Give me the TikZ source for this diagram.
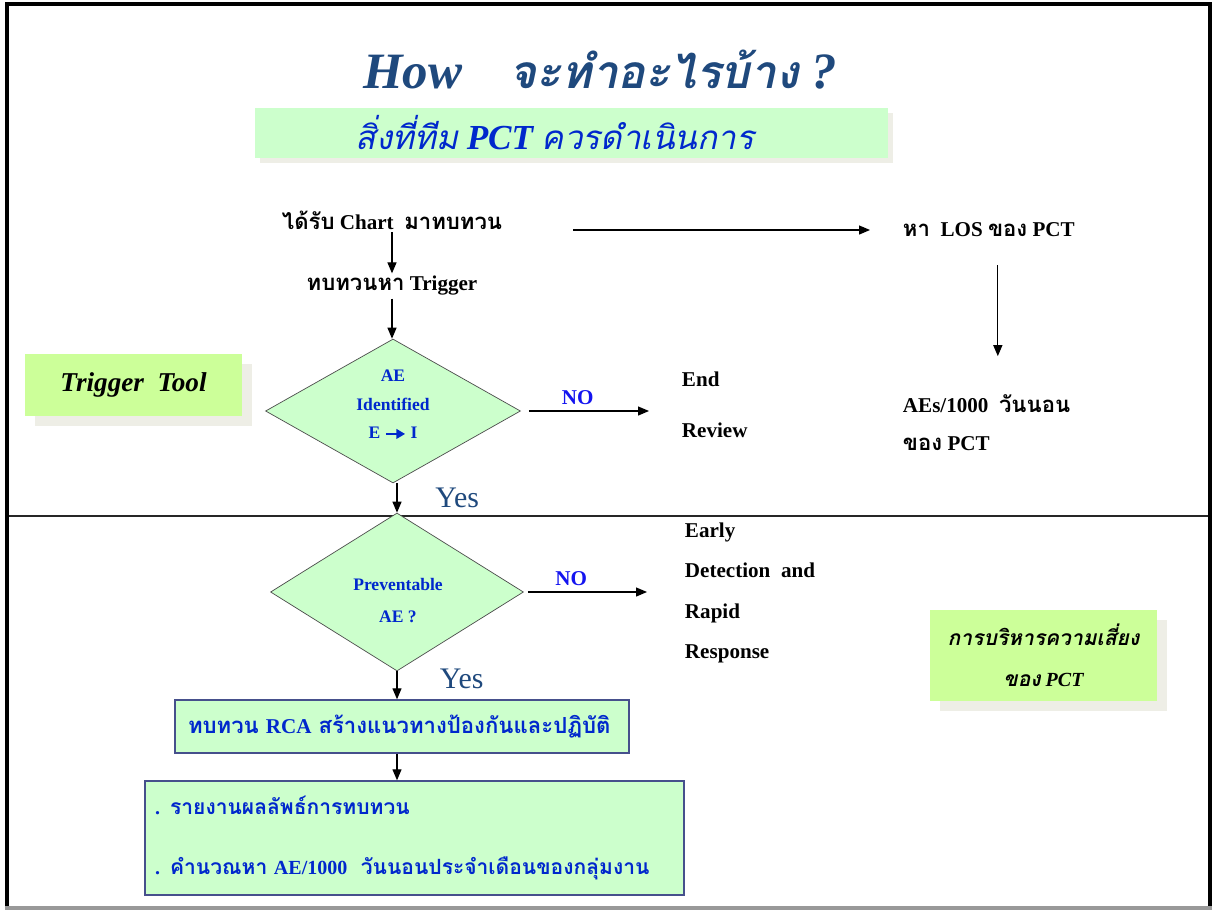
\documentclass[tikz,border=0pt]{standalone}
\usepackage{fontspec}
\setmainfont{Liberation Serif}
\newfontfamily\thaifont[Script=Thai,Scale=1.05]{Loma}
\newcommand{\tha}[1]{{\thaifont #1}}
\newcommand{\eiarrow}{\tikz[baseline=-0.6ex]\draw[-{Triangle[length=5pt,width=5.5pt]},line width=1.3pt] (0pt,0pt) -- (11pt,0pt);}
\usetikzlibrary{arrows.meta,positioning,shapes.geometric,shadows}
\definecolor{pctTitleBlue}{RGB}{31,73,125}
\definecolor{pctBlue}{RGB}{0,40,204}
\definecolor{pctNoBlue}{RGB}{20,20,240}
\definecolor{pctPaleGreen}{RGB}{204,255,204}
\definecolor{pctLime}{RGB}{204,255,153}
\definecolor{pctShadow}{RGB}{238,238,230}
\definecolor{pctSlate}{RGB}{70,80,140}

\begin{document}
\begin{tikzpicture}[
  x=0.02cm,y=-0.02cm,
  flowtext/.style={
    font=\bfseries\fontsize{12}{14}\selectfont,
    inner sep=1.5pt
  },
  decision/.style={
    diamond,
    draw=black!70,
    fill=pctPaleGreen,
    inner sep=0pt
  },
  decisiontext/.style={
    align=center,
    text=pctBlue,
    inner sep=0pt
  },
  stepbox/.style={
    draw=pctSlate,
    fill=pctPaleGreen,
    line width=0.8pt,
    align=left,
    text=pctBlue
  },
  notebox/.style={
    fill=pctLime,
    inner sep=0pt,
    align=center,
    drop shadow={shadow xshift=0.2cm,shadow yshift=-0.2cm,fill=pctShadow,opacity=1}
  },
  answer/.style={font=\fontsize{17}{19}\selectfont,text=pctTitleBlue},
  nolabel/.style={font=\bfseries\fontsize{12}{14}\selectfont,text=pctNoBlue},
  flowarrow/.style={-{Triangle[length=2.2mm,width=1.8mm]},line width=0.7pt}
]
  \fill[white] (0,0) rectangle (1214,913);
  \useasboundingbox (0,0) rectangle (1214,913);
  \draw[line width=2.3pt] (1212,4) -- (7,4) -- (7,909);
  \draw[line width=2.3pt] (1210,2) -- (1210,906);
  \draw[line width=2.3pt,black!40] (5,908) -- (1212,908);
  \draw[line width=0.9pt,black!85] (9,516) -- (1208,516);

  \node[font=\bfseries\itshape\fontsize{29}{32}\selectfont,text=pctTitleBlue] (title)
    at (600,70) {How\hspace{0.95cm}{\thaifont\fontsize{25}{30}\selectfont จะทำอะไรบ้าง} ?};
  \node[fill=pctPaleGreen,minimum width=12.66cm,minimum height=1cm,
    drop shadow={shadow xshift=0.1cm,shadow yshift=-0.1cm,fill=pctShadow,opacity=1}] (banner)
    at (571.5,133) {};
  \node[font=\itshape\fontsize{20}{22}\selectfont,text=pctBlue] (bannertext)
    at (555,133) {{\thaifont\fontsize{18}{22}\selectfont สิ่งที่ทีม} \textbf{PCT}
    {\thaifont\fontsize{18}{22}\selectfont ควรดำเนินการ}};

  \node[notebox,minimum width=4.34cm,minimum height=1.24cm,
    font=\bfseries\itshape\fontsize{15.5}{18}\selectfont] (tool)
    at (133.5,385) {Trigger~ Tool};
  \node[notebox,minimum width=4.54cm,minimum height=1.82cm,
    font=\bfseries\itshape\fontsize{11.4}{23.3}\selectfont] (risk)
    at (1043.5,655.5) {\tha{การบริหารความเสี่ยง}\\\tha{ของ} \textit{PCT}};

  \node[flowtext] (chart) at (392,220) {\tha{ได้รับ} Chart~ \tha{มาทบทวน}};
  \node[flowtext] (trigger) at (392,286) {\tha{ทบทวนหา} Trigger};
  \node[flowtext,anchor=west] (los) at (900,230) {\tha{หา}~ LOS \tha{ของ} PCT};
  \node[flowtext,anchor=west,align=left,font=\bfseries\fontsize{12}{22}\selectfont] (aes)
    at (900,422.5) {AEs/1000~ \tha{วันนอน}\\\tha{ของ} PCT};

  \node[decision,minimum width=5.1cm,minimum height=2.88cm] (identified) at (393,411) {};
  \node[decisiontext,font=\bfseries\fontsize{10}{16.2}\selectfont] (identifiedtext)
    at (393,404.5) {AE\\Identified\\E \eiarrow\ I};
  \node[flowtext,anchor=west,align=left,font=\bfseries\fontsize{12}{29}\selectfont] (endreview)
    at (679,405) {End\\Review};

  \node[decision,minimum width=5.06cm,minimum height=3.16cm] (preventable) at (397,592) {};
  \node[decisiontext,font=\bfseries\fontsize{10}{18.2}\selectfont] (preventabletext)
    at (398,601) {Preventable\\AE ?};
  \node[flowtext,anchor=west,align=left,font=\bfseries\fontsize{12}{23}\selectfont] (early)
    at (682,593) {Early\\Detection~ and\\Rapid\\Response};

  \node[stepbox,text width=8.56cm,inner xsep=0.26cm,minimum height=1.06cm,
    font=\bfseries\fontsize{12}{15}\selectfont] (rca)
    at (402,726.5) {\tha{ทบทวน} RCA \tha{สร้างแนวทางป้องกันและปฏิบัติ}};
  \node[stepbox,text width=10.38cm,inner xsep=0.2cm,minimum height=2.28cm,
    font=\bfseries\fontsize{11.4}{34}\selectfont] (report)
    at (414.5,838) {. \tha{รายงานผลลัพธ์การทบทวน}\\. \tha{คำนวณหา} AE/1000~ \tha{วันนอนประจำเดือนของกลุ่มงาน}};

  \draw[flowarrow] (chart) -- (trigger);
  \draw[flowarrow] (trigger) -- (trigger |- identified.north);
  \draw[flowarrow,shorten <=1.36cm,shorten >=0.6cm] (chart.east |- los.west) -- (los.west);
  \draw[flowarrow,shorten <=0.5cm,shorten >=0.7cm]
    ([xshift=0.18cm]los.south) -- ([xshift=0.18cm]los.south |- aes.north);
  \draw[flowarrow,shorten <=0.16cm,shorten >=0.6cm] (identified.east)
    -- node[pos=0.36,above,nolabel] {NO} (identified.east -| endreview.west);
  \draw[flowarrow] (preventable.north |- identified.south)
    -- node[right=0.64cm,answer] {Yes} (preventable.north);
  \draw[flowarrow,shorten <=0.08cm,shorten >=0.7cm] (preventable.east)
    -- node[pos=0.3,above,nolabel] {NO} (preventable.east -| early.west);
  \draw[flowarrow] (preventable.south)
    -- node[right=0.73cm,answer,yshift=0.12cm] {Yes} (preventable.south |- rca.north);
  \draw[flowarrow] (preventable.south |- rca.south) -- (preventable.south |- report.north);
\end{tikzpicture}
\end{document}
